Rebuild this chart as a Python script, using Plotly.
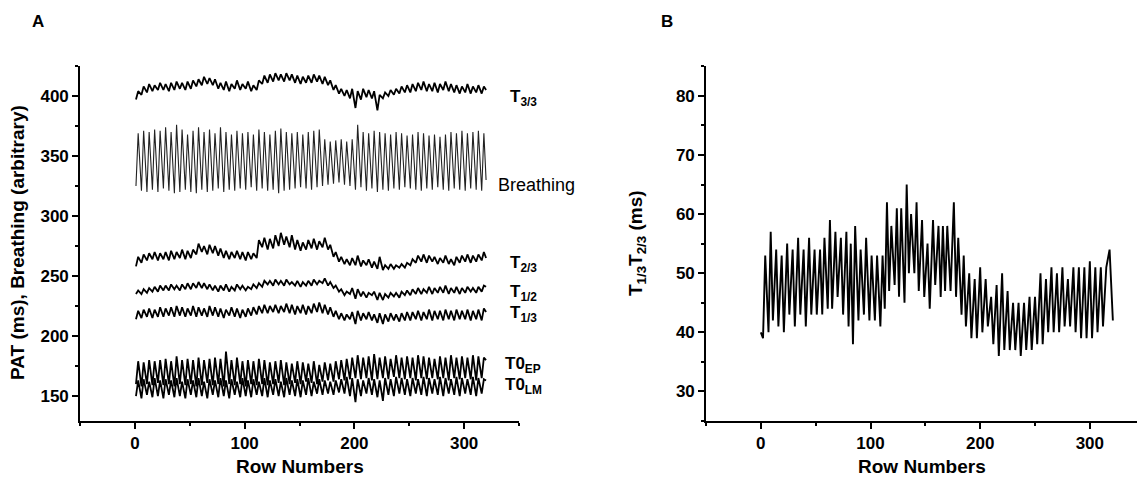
import plotly.graph_objects as go

# ---------------- Panel A data (vertex rows and values) ----------------
rows_a = [1, 3, 6, 8, 11, 13, 16, 18, 21, 23,
          26, 28, 31, 33, 36, 38, 41, 43, 46, 48,
          51, 53, 56, 58, 61, 63, 66, 68, 71, 73,
          76, 78, 81, 83, 86, 88, 91, 93, 96, 98,
          101, 103, 106, 108, 111, 113, 116, 118, 121, 123,
          126, 128, 131, 133, 136, 138, 141, 143, 146, 148,
          151, 153, 156, 158, 161, 163, 166, 168, 171, 173,
          176, 178, 181, 183, 186, 188, 191, 193, 196, 198,
          201, 203, 206, 208, 211, 213, 216, 218, 221, 223,
          226, 228, 231, 233, 236, 238, 241, 243, 246, 248,
          251, 253, 256, 258, 261, 263, 266, 268, 271, 273,
          276, 278, 281, 283, 286, 288, 291, 293, 296, 298,
          301, 303, 306, 308, 311, 313, 316, 318, 320]

t33 = [397, 404, 401, 408, 403, 410, 404, 409, 405, 411,
       405, 410, 404, 411, 405, 412, 406, 411, 405, 412,
       406, 413, 408, 414, 409, 416, 410, 415, 409, 414,
       406, 411, 405, 412, 404, 410, 406, 413, 405, 410,
       406, 412, 404, 409, 405, 413, 410, 417, 411, 418,
       412, 419, 413, 418, 412, 419, 413, 418, 411, 417,
       410, 416, 411, 417, 411, 418, 412, 417, 410, 416,
       409, 413, 405, 409, 402, 406, 400, 405, 398, 406,
       390, 404, 397, 406, 399, 405, 398, 404, 388, 401,
       398, 403, 400, 405, 401, 406, 402, 408, 403, 409,
       403, 410, 404, 411, 405, 412, 404, 410, 404, 411,
       403, 410, 405, 412, 404, 410, 403, 409, 402, 408,
       403, 410, 402, 408, 403, 409, 402, 408, 405]

breathing = [325, 369, 321, 371, 320, 370, 322, 372, 320, 371,
             323, 374, 321, 370, 319, 376, 320, 372, 322, 368,
             320, 371, 319, 374, 322, 370, 320, 372, 321, 369,
             323, 374, 320, 370, 322, 368, 321, 371, 323, 369,
             322, 370, 324, 368, 321, 372, 323, 370, 321, 368,
             322, 371, 319, 373, 321, 370, 322, 369, 323, 370,
             324, 368, 323, 370, 322, 371, 324, 372, 325, 364,
             326, 362, 327, 363, 328, 364, 326, 362, 325, 364,
             322, 376, 324, 370, 321, 369, 323, 371, 320, 370,
             322, 369, 321, 368, 323, 370, 322, 369, 324, 367,
             323, 368, 322, 370, 321, 369, 323, 367, 322, 368,
             324, 366, 322, 368, 321, 370, 323, 369, 322, 371,
             321, 369, 323, 370, 322, 371, 321, 369, 330]

t23 = [258, 266, 261, 268, 263, 269, 264, 270, 263, 269,
       264, 270, 263, 271, 264, 270, 265, 272, 264, 271,
       265, 272, 268, 277, 270, 275, 268, 276, 269, 275,
       267, 273, 265, 271, 264, 270, 265, 271, 264, 270,
       263, 270, 264, 269, 265, 280, 274, 282, 272, 281,
       273, 284, 275, 286, 276, 283, 274, 284, 272, 280,
       271, 278, 272, 280, 273, 281, 272, 279, 274, 282,
       272, 276, 266, 270, 262, 266, 260, 264, 259, 265,
       259, 267, 258, 263, 259, 264, 257, 262, 256, 266,
       255, 259, 256, 260, 256, 259, 257, 260, 257, 261,
       259, 264, 261, 267, 262, 268, 261, 267, 262, 266,
       260, 265, 261, 267, 260, 264, 259, 266, 261, 267,
       262, 268, 261, 267, 262, 268, 263, 270, 265]

t12 = [235, 238, 235, 239, 236, 240, 237, 241, 237, 242,
       238, 242, 238, 243, 239, 242, 238, 243, 239, 244,
       239, 244, 240, 245, 240, 244, 239, 243, 238, 242,
       237, 242, 238, 243, 237, 241, 238, 243, 239, 242,
       238, 241, 239, 243, 240, 244, 241, 246, 243, 246,
       242, 247, 243, 246, 242, 247, 243, 245, 242, 246,
       241, 245, 242, 246, 242, 247, 243, 246, 244, 248,
       242, 245, 240, 242, 237, 239, 234, 237, 235, 240,
       231, 239, 233, 237, 232, 236, 234, 237, 230, 236,
       230, 235, 232, 236, 233, 236, 232, 237, 234, 238,
       234, 239, 235, 240, 235, 239, 236, 241, 235, 240,
       236, 241, 236, 242, 235, 240, 236, 241, 235, 240,
       236, 241, 237, 240, 236, 241, 237, 242, 241]

t13 = [214, 221, 215, 222, 216, 223, 215, 222, 216, 224,
       216, 223, 217, 224, 216, 225, 217, 224, 216, 223,
       217, 225, 216, 224, 217, 223, 216, 225, 217, 224,
       216, 223, 215, 222, 217, 224, 216, 223, 215, 222,
       216, 223, 217, 224, 218, 225, 219, 226, 219, 225,
       220, 226, 219, 225, 220, 227, 219, 226, 218, 225,
       219, 226, 218, 225, 219, 227, 220, 228, 219, 226,
       218, 224, 216, 221, 214, 219, 213, 218, 214, 220,
       210, 221, 213, 219, 214, 220, 213, 218, 211, 219,
       210, 218, 212, 219, 213, 218, 212, 219, 213, 220,
       213, 220, 214, 221, 213, 220, 214, 222, 213, 221,
       214, 221, 213, 222, 214, 221, 213, 222, 214, 221,
       214, 222, 213, 221, 214, 222, 213, 223, 220]

t0_ep = [160, 179, 158, 178, 160, 180, 159, 179, 161, 180,
         159, 181, 160, 179, 158, 183, 160, 180, 159, 181,
         160, 180, 158, 182, 159, 180, 161, 181, 159, 182,
         160, 181, 158, 187, 160, 180, 159, 182, 160, 179,
         158, 180, 160, 179, 159, 181, 160, 180, 159, 178,
         160, 179, 161, 180, 159, 178, 160, 177, 161, 179,
         160, 178, 162, 177, 161, 179, 160, 176, 162, 178,
         163, 177, 162, 179, 164, 180, 163, 181, 164, 182,
         165, 184, 164, 182, 165, 183, 163, 185, 164, 182,
         165, 183, 164, 181, 166, 184, 165, 182, 164, 183,
         165, 182, 163, 184, 165, 183, 164, 182, 165, 181,
         164, 183, 165, 182, 163, 184, 165, 182, 164, 183,
         165, 182, 164, 184, 163, 183, 165, 182, 180]

t0_lm = [150, 163, 148, 164, 151, 162, 149, 165, 150, 163,
         148, 164, 151, 163, 149, 165, 150, 162, 148, 164,
         151, 163, 149, 165, 150, 162, 148, 164, 151, 163,
         149, 165, 150, 163, 148, 164, 151, 162, 149, 165,
         150, 163, 149, 164, 151, 162, 150, 165, 149, 163,
         151, 164, 150, 162, 149, 165, 151, 163, 150, 164,
         149, 163, 151, 165, 150, 162, 152, 164, 151, 163,
         152, 162, 151, 163, 153, 164, 152, 166, 150, 165,
         145, 164, 150, 163, 152, 165, 151, 164, 149, 163,
         146, 165, 151, 164, 150, 166, 152, 165, 151, 164,
         150, 165, 152, 164, 151, 166, 150, 165, 152, 164,
         151, 166, 150, 165, 152, 164, 151, 166, 150, 165,
         152, 164, 151, 166, 150, 165, 152, 164, 163]

# ---------------- Panel B data ----------------
rows_b = [0, 2, 4, 7, 9, 11, 14, 16, 19, 21, 24, 26, 29, 31, 34, 36, 39, 41, 44, 46,
          49, 51, 54, 56, 58, 61, 63, 65, 68, 70, 73, 75, 78, 80, 82, 84, 86, 89, 91, 94,
          96, 99, 101, 104, 106, 109, 111, 113, 115, 117, 119, 122, 124, 126, 128, 131, 133, 135, 137, 140,
          142, 144, 147, 149, 152, 154, 157, 159, 162, 164, 166, 168, 170, 173, 176, 178, 180, 183, 185, 187,
          190, 192, 195, 197, 200, 202, 205, 207, 210, 212, 215, 217, 220, 222, 225, 227, 230, 232, 235, 237,
          240, 242, 245, 247, 250, 252, 255, 257, 260, 262, 265, 267, 270, 272, 275, 277, 280, 282, 285, 287,
          290, 292, 295, 297, 300, 302, 305, 307, 310, 312, 315, 318, 321]
t13t23 = [40, 39, 53, 40, 57, 42, 54, 41, 53, 40, 55, 43, 54, 41, 56, 43, 54, 41, 56, 43,
          54, 43, 54, 43, 56, 44, 59, 44, 57, 46, 56, 43, 57, 41, 55, 38, 58, 42, 54, 43,
          56, 42, 53, 42, 53, 41, 53, 44, 62, 47, 58, 48, 61, 46, 61, 45, 65, 50, 60, 50,
          62, 47, 59, 46, 55, 44, 59, 48, 58, 46, 58, 47, 58, 47, 62, 46, 56, 43, 53, 41,
          50, 39, 49, 39, 51, 40, 49, 41, 46, 38, 48, 36, 50, 37, 47, 37, 45, 37, 45, 36,
          45, 37, 46, 37, 46, 38, 50, 38, 49, 40, 51, 40, 50, 40, 51, 41, 49, 41, 51, 40,
          51, 39, 51, 39, 52, 39, 51, 40, 51, 41, 51, 54, 42]

# tick labels
ticks_x = [0, 100, 200, 300]
ticks_ya = [150, 200, 250, 300, 350, 400]
ticks_yb = [30, 40, 50, 60, 70, 80]

# ---------------- Figure ----------------
W, H = 1137, 482
FONT = "Liberation Sans"

fig = go.Figure()

def line(x, y, xa, ya, width=1.8, color="black"):
    fig.add_trace(go.Scatter(x=x, y=y, mode="lines", xaxis=xa, yaxis=ya,
                             line=dict(color=color, width=width), hoverinfo="skip"))

line(rows_a, t33, "x", "y")
line(rows_a, breathing, "x", "y", width=1.1, color="#222222")
line(rows_a, t23, "x", "y")
line(rows_a, t12, "x", "y")
line(rows_a, t13, "x", "y")
line(rows_a, t0_ep, "x", "y")
line(rows_a, t0_lm, "x", "y")
line(rows_b, t13t23, "x2", "y2", width=1.9)

tickfont = dict(family=FONT, size=17, color="black")
axis_common = dict(showline=True, linecolor="black", linewidth=1.6, ticks="outside",
                   ticklen=6, tickwidth=1.6, tickcolor="black", showgrid=False,
                   zeroline=False, tickfont=tickfont)

def bold(vals):
    return ["<b>%d</b>" % v for v in vals]

def minor(dt, t0):
    return dict(dtick=dt, tick0=t0, ticks="outside", ticklen=3.5, tickwidth=1.6,
                tickcolor="black", showgrid=False)

ydom = [61 / H, 416 / H]
fig.update_layout(
    width=W, height=H, margin=dict(l=0, r=0, t=0, b=0),
    paper_bgcolor="white", plot_bgcolor="white", showlegend=False,
    xaxis=dict(domain=[80 / W, 519 / W], range=[-50, 350], anchor="y",
               tickmode="array", tickvals=ticks_x, ticktext=bold(ticks_x),
               minor=minor(50, 0), **axis_common),
    yaxis=dict(domain=ydom, range=[129.2, 425], anchor="x",
               tickmode="array", tickvals=ticks_ya, ticktext=bold(ticks_ya),
               minor=minor(25, 150), **axis_common),
    xaxis2=dict(domain=[706 / W, 1.0], range=[-50, 343], anchor="y2",
                tickmode="array", tickvals=ticks_x, ticktext=bold(ticks_x),
                minor=minor(50, 0), **axis_common),
    yaxis2=dict(domain=ydom, range=[25, 85.05], anchor="x2",
                tickmode="array", tickvals=ticks_yb, ticktext=bold(ticks_yb),
                minor=minor(5, 30), **axis_common),
)

ann = []
def paper_text(text, x, y, size, angle=0):
    ann.append(dict(text=text, x=x / W, y=1 - y / H, xref="paper", yref="paper",
                    showarrow=False, textangle=angle, xanchor="center", yanchor="middle",
                    font=dict(family=FONT, size=size, color="black")))

paper_text("<b>A</b>", 38, 22, 17)
paper_text("<b>B</b>", 667, 22, 17)
paper_text("<b>PAT (ms), Breathing (arbitrary)</b>", 17, 243, 19, angle=-90)
paper_text("<b>Row Numbers</b>", 300, 466, 19)
paper_text("<b>Row Numbers</b>", 922, 466, 19)
paper_text("<b>T<sub>1/3</sub>T<sub>2/3</sub> (ms)</b>", 637, 243, 19, angle=-90)

def data_label(text, x, y, size=17):
    ann.append(dict(text=text, x=x, y=y, xref="x", yref="y", showarrow=False,
                    xanchor="left", yanchor="middle",
                    font=dict(family=FONT, size=size, color="black")))

data_label("<b>T<sub>3/3</sub></b>", 340, 398)
data_label("Breathing", 329, 326, size=18)
data_label("<b>T<sub>2/3</sub></b>", 340, 260)
data_label("<b>T<sub>1/2</sub></b>", 340, 236)
data_label("<b>T<sub>1/3</sub></b>", 340, 218)
data_label("<b>T0<sub>EP</sub></b>", 335, 176)
data_label("<b>T0<sub>LM</sub></b>", 335, 158)

fig.update_layout(annotations=ann)
fig.write_html("out.html")
